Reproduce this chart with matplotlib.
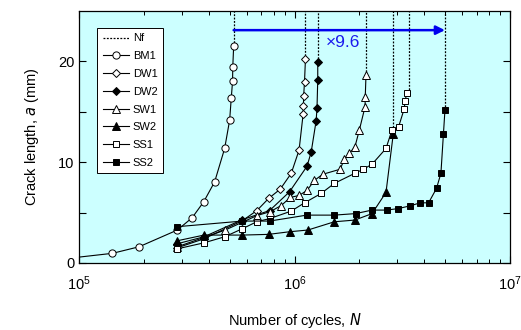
import math
import matplotlib
matplotlib.use("Agg")
import matplotlib.pyplot as plt
from matplotlib.ticker import FixedLocator, FuncFormatter, LogLocator, NullFormatter

plt.rcParams['font.family'] = ['Liberation Sans', 'DejaVu Sans']

# ---- data (N cycles, crack length a in mm) ----
bm1_n = [8.0e4, 1.43e5, 1.90e5, 2.86e5, 3.35e5, 3.79e5, 4.26e5, 4.74e5, 5.00e5, 5.09e5, 5.16e5, 5.17e5, 5.22e5]
bm1_a = [0.35, 0.96, 1.61, 3.27, 4.49, 6.07, 8.05, 11.36, 14.16, 16.4, 18.05, 19.4, 21.5]

dw1_n = [2.85e5, 3.80e5, 5.73e5, 6.69e5, 7.58e5, 8.59e5, 9.66e5, 1.05e6, 1.097e6, 1.10e6, 1.103e6, 1.113e6, 1.124e6]
dw1_a = [1.5, 2.4, 4.2, 5.2, 6.4, 7.33, 8.9, 11.2, 14.8, 15.6, 16.6, 18.0, 20.2]

dw2_n = [2.85e5, 3.80e5, 5.73e5, 7.66e5, 9.48e5, 1.143e6, 1.195e6, 1.26e6, 1.272e6, 1.282e6, 1.282e6]
dw2_a = [1.9, 2.6, 4.3, 5.2, 7.06, 9.6, 11.0, 14.1, 15.4, 18.2, 19.9]

sw1_n = [2.85e5, 4.77e5, 6.69e5, 7.72e5, 8.68e5, 9.55e5, 1.05e6, 1.143e6, 1.238e6, 1.352e6,
         1.628e6, 1.704e6, 1.797e6, 1.906e6, 2.0e6, 2.125e6, 2.13e6, 2.147e6]
sw1_a = [1.6, 3.27, 4.7, 5.1, 5.7, 6.5, 6.7, 7.2, 8.2, 8.8, 9.3, 10.3, 10.9, 11.5, 13.2, 15.5, 16.5, 18.7]

sw2_n = [2.85e5, 3.80e5, 5.73e5, 7.58e5, 9.48e5, 1.153e6, 1.531e6, 1.906e6, 2.289e6, 2.658e6, 2.873e6]
sw2_a = [2.2, 2.77, 2.77, 2.84, 3.1, 3.27, 4.09, 4.26, 4.9, 7.0, 12.8]

ss1_n = [2.85e5, 3.80e5, 4.74e5, 5.73e5, 6.69e5, 7.66e5, 9.66e5, 1.113e6, 1.329e6, 1.531e6,
         1.906e6, 2.087e6, 2.289e6, 2.658e6, 2.834e6, 3.04e6, 3.23e6, 3.26e6, 3.325e6]
ss1_a = [1.4, 2.0, 2.6, 3.4, 4.1, 4.4, 5.15, 5.97, 6.9, 7.9, 8.9, 9.3, 9.8, 11.36, 13.2, 13.5, 15.3, 16.1, 16.9]

ss2_n = [2.85e5, 5.73e5, 7.66e5, 1.14e6, 1.53e6, 1.92e6, 2.29e6, 2.68e6, 3.03e6, 3.44e6,
         3.83e6, 4.19e6, 4.56e6, 4.78e6, 4.91e6, 4.99e6]
ss2_a = [3.6, 4.16, 4.16, 4.75, 4.75, 4.9, 5.25, 5.25, 5.4, 5.67, 5.97, 5.97, 7.4, 8.9, 12.8, 15.15]

series_names = ['BM1', 'DW1', 'DW2', 'SW1', 'SW2', 'SS1', 'SS2']
nf_values = [5.22e5, 1.124e6, 1.282e6, 2.147e6, 2.873e6, 3.41e6, 4.99e6]
ratio_label = '×9.6'
x_ticks = [1e5, 1e6, 1e7]
y_ticks = [0, 5, 10, 15, 20]
y_labelled = [0, 10, 20]

# ---- plotting ----
fig = plt.figure(figsize=(5.21, 3.30), dpi=100)
ax = fig.add_axes([79/521, 1 - 263/330, (510 - 79)/521, (263 - 11)/330])
ax.set_facecolor('#ccffff')
ax.set_xscale('log')
ax.set_xlim(1e5, 1e7)
ax.set_ylim(0, 25)

series = [(bm1_n, bm1_a), (dw1_n, dw1_a), (dw2_n, dw2_a), (sw1_n, sw1_a),
          (sw2_n, sw2_a), (ss1_n, ss1_a), (ss2_n, ss2_a)]
styles = [('o', 'white', 5.2), ('D', 'white', 4.4), ('D', 'black', 4.4), ('^', 'white', 5.5),
          ('^', 'black', 5.5), ('s', 'white', 5.0), ('s', 'black', 5.0)]

# Nf dotted lines
for nf, (n, a) in zip(nf_values, series):
    ax.plot([nf, nf], [a[-1], 25], color='black', linestyle=(0, (1.5, 1.2)), lw=0.9, zorder=2)
ax.plot([], [], color='black', linestyle=(0, (1.5, 1.2)), lw=0.9, label='Nf')

for name, (n, a), (m, fc, ms) in zip(series_names, series, styles):
    ax.plot(n, a, color='black', lw=0.8, marker=m, markersize=ms, markerfacecolor=fc,
            markeredgecolor='black', markeredgewidth=0.7, label=name, zorder=3)

# arrow
ax.annotate('', xy=(nf_values[-1], 23.1), xytext=(nf_values[0], 23.1),
            arrowprops=dict(arrowstyle='-|>', color='#0000ee', lw=1.8, mutation_scale=13,
                            shrinkA=0, shrinkB=0), zorder=4)
ax.text(1.67e6, 21.9, ratio_label, color='#1a1aee', fontsize=12.5, ha='center', va='center')

ax.xaxis.set_major_locator(FixedLocator(x_ticks))
ax.xaxis.set_minor_locator(LogLocator(base=10, subs=range(2, 10)))
ax.xaxis.set_minor_formatter(NullFormatter())
ax.xaxis.set_major_formatter(FuncFormatter(lambda v, p: r'$\mathregular{10^{%d}}$' % round(math.log10(v))))
ax.yaxis.set_major_locator(FixedLocator(y_ticks))
ax.yaxis.set_major_formatter(FuncFormatter(lambda v, p: ('%d' % v) if v in y_labelled else ''))
ax.tick_params(which='both', direction='in', top=True, right=True, labelsize=10.5)
ax.tick_params(which='major', length=5, width=0.8)
ax.tick_params(which='minor', length=3, width=0.7)
ax.tick_params(axis='x', pad=8)

for s in ax.spines.values():
    s.set_linewidth(0.9)

ax.set_xlabel('Number of cycles, $\\mathit{N}$', fontsize=10.5, labelpad=13)
ax.set_ylabel('Crack length, $\\mathit{a}$ (mm)', fontsize=10.5, labelpad=12)

leg = ax.legend(loc='upper left', bbox_to_anchor=(0.042, 0.933), borderaxespad=0, fontsize=8,
                frameon=True, fancybox=False, edgecolor='black', framealpha=1, facecolor='white',
                handlelength=2.4, handletextpad=0.3, labelspacing=0.7, borderpad=0.5)
leg.get_frame().set_linewidth(0.7)

fig.savefig('out.png', dpi=100)
